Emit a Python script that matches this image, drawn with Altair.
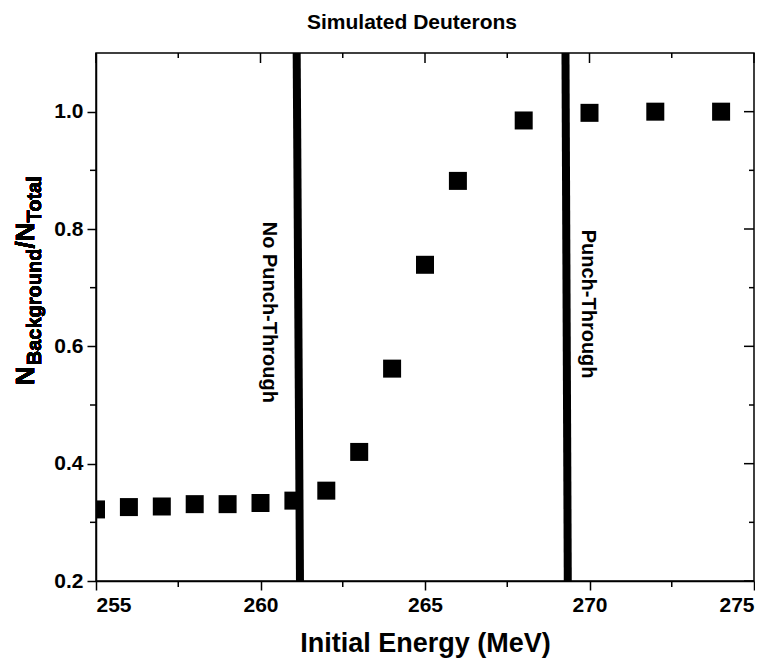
import altair as alt
import pandas as pd

# ---- data ----
energy = [255, 256, 257, 258, 259, 260, 261, 262, 263, 264, 265, 266, 268, 270, 272, 274]
ratio = [0.322, 0.326, 0.327, 0.331, 0.331, 0.333, 0.337, 0.354, 0.420, 0.562,
         0.739, 0.882, 0.985, 0.998, 1.000, 1.000]

x_major = [255, 260, 265, 270, 275]
x_minor = [257.5, 262.5, 267.5, 272.5]
y_major = [0.2, 0.4, 0.6, 0.8, 1.0]
y_minor = [0.3, 0.5, 0.7, 0.9]

x_domain = [255, 275]
y_domain = [0.2, 1.1]

boundary_top = [261.1, 269.27]
boundary_bottom = [261.2, 269.34]

region_labels = ["No Punch-Through", "Punch-Through"]
region_x = [260.26, 269.95]
region_y = [0.658, 0.672]

title_text = "Simulated Deuterons"
x_title = "Initial Energy (MeV)"
y_title_parts = ["N", "Background", "/N", "Total"]

# ---- layout / style ----
W, H = 658, 528
FONT = "Liberation Sans"
BIG, SMALL = 26, 20

xscale = alt.Scale(domain=x_domain, nice=False, zero=False)
yscale = alt.Scale(domain=y_domain, nice=False, zero=False)
xaxis = alt.Axis(values=x_major, format="d", title=x_title, tickSize=9,
                 labelPadding=4, titlePadding=15, grid=False)
yaxis = alt.Axis(values=y_major, format=".1f", title=None, tickSize=9,
                 labelPadding=4, grid=False)


def X(field):
    return alt.X(field, type="quantitative", scale=xscale, axis=xaxis)


def Y(field):
    return alt.Y(field, type="quantitative", scale=yscale, axis=yaxis)


pts = pd.DataFrame({"energy": energy, "ratio": ratio})
points = alt.Chart(pts).mark_square(size=324, color="black", opacity=1, clip=True).encode(
    x=X("energy"), y=Y("ratio"))

lines_df = pd.DataFrame({
    "xt": boundary_top, "xb": boundary_bottom,
    "yt": [y_domain[1]] * 2, "yb": [y_domain[0]] * 2,
})
lines = alt.Chart(lines_df).mark_rule(color="black", strokeWidth=8).encode(
    x=X("xt"), x2="xb", y=Y("yt"), y2="yb")

lab_df = pd.DataFrame({"t": region_labels, "x": region_x, "y": region_y})
labels = alt.Chart(lab_df).mark_text(
    angle=90, align="center", baseline="middle", font=FONT, fontSize=20,
    fontWeight="bold", color="black").encode(x=X("x"), y=Y("y"), text="t:N")

# minor / mirrored ticks
xmaj = pd.DataFrame({"v": x_major})
xmin = pd.DataFrame({"v": x_minor})
ymaj = pd.DataFrame({"v": y_major})
ymin = pd.DataFrame({"v": y_minor})

tick_style = dict(color="black", strokeWidth=1.5)
bottom_minor = alt.Chart(xmin).mark_rule(**tick_style).encode(
    x=X("v"), y=alt.value(H), y2=alt.value(H + 6))
left_minor = alt.Chart(ymin).mark_rule(**tick_style).encode(
    y=Y("v"), x=alt.value(-6), x2=alt.value(0))
top_major = alt.Chart(xmaj).mark_rule(**tick_style).encode(
    x=X("v"), y=alt.value(0), y2=alt.value(10))
top_minor = alt.Chart(xmin).mark_rule(**tick_style).encode(
    x=X("v"), y=alt.value(0), y2=alt.value(5))
right_major = alt.Chart(ymaj).mark_rule(**tick_style).encode(
    y=Y("v"), x=alt.value(W - 10), x2=alt.value(W))
right_minor = alt.Chart(ymin).mark_rule(**tick_style).encode(
    y=Y("v"), x=alt.value(W - 5), x2=alt.value(W))

# y-axis title with subscripts, built from text pieces
w_N = 0.722 * BIG
w_bg = 5.834 * SMALL
w_sl = 1.000 * BIG
ytitle_y0 = 332
pieces = [
    (y_title_parts[0], BIG, -62, ytitle_y0),
    (y_title_parts[1], SMALL, -55, ytitle_y0 - w_N - 1),
    (y_title_parts[2], BIG, -62, ytitle_y0 - w_N - w_bg - 1),
    (y_title_parts[3], SMALL, -55, ytitle_y0 - w_N - w_bg - w_sl - 1),
]
ytitle_layers = []
for txt, fs, px, py in pieces:
    ytitle_layers.append(
        alt.Chart(pts).mark_text(
            text=txt, angle=270, align="left", baseline="alphabetic",
            font=FONT, fontSize=fs, fontWeight="bold", color="black",
        ).encode(x=alt.value(px), y=alt.value(py))
    )

chart = alt.layer(
    lines, points, labels, bottom_minor, left_minor, top_major, top_minor,
    right_major, right_minor, *ytitle_layers
).properties(
    width=W, height=H,
    title=alt.TitleParams(title_text, font=FONT, fontSize=21, fontWeight="bold",
                          color="black", offset=16, dx=-13),
    padding={"left": 5, "top": 4, "right": 0, "bottom": 5},
).configure_view(
    stroke="black", strokeWidth=1.5
).configure_axis(
    domainColor="black", domainWidth=1.5, tickColor="black", tickWidth=1.5,
    labelFont=FONT, labelFontSize=21, labelFontWeight="bold", labelColor="black",
    titleFont=FONT, titleFontSize=27, titleFontWeight="bold", titleColor="black",
)

chart.save("out.html", embed_options={"renderer": "svg", "actions": False})
